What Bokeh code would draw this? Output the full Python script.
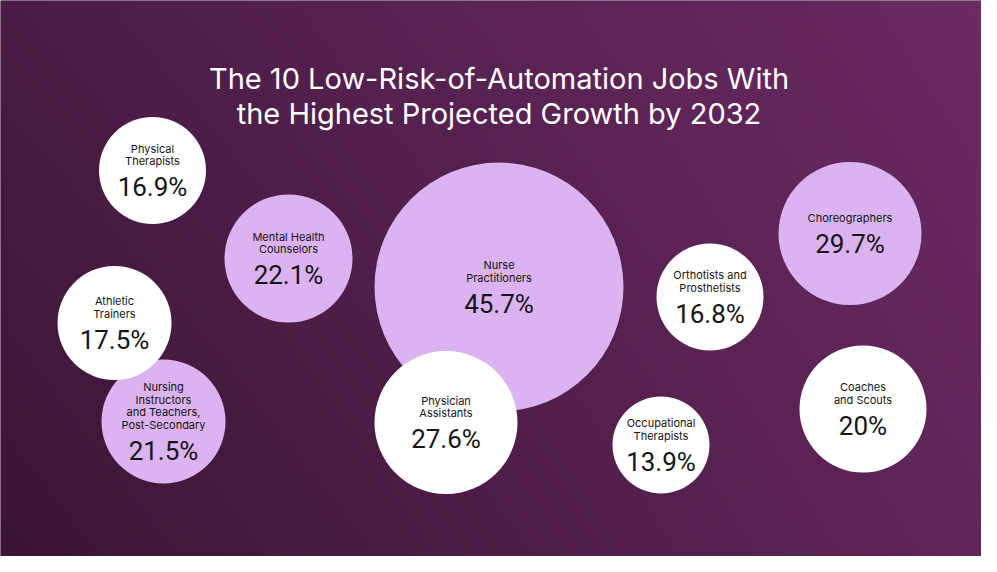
import numpy as np
from bokeh.plotting import figure
from bokeh.models import Range1d, ColumnDataSource
from bokeh.core.properties import value
from bokeh.embed import file_html
from bokeh.resources import INLINE

# ---------------- data ----------------
title_lines = ["The 10 Low-Risk-of-Automation Jobs With",
               "the Highest Projected Growth by 2032"]

jobs = ["Physical\nTherapists",
        "Mental Health\nCounselors",
        "Athletic\nTrainers",
        "Nursing\nInstructors\nand Teachers,\nPost-Secondary",
        "Nurse\nPractitioners",
        "Physician\nAssistants",
        "Choreographers",
        "Orthotists and\nProsthetists",
        "Coaches\nand Scouts",
        "Occupational\nTherapists"]
growth = [16.9, 22.1, 17.5, 21.5, 45.7, 27.6, 29.7, 16.8, 20, 13.9]
highlight = [False, True, False, True, True, False, True, False, False, False]

# ---------------- layout (reference pixel space) ----------------
cx = [152, 288, 114, 163, 498.5, 445.5, 849.5, 709.5, 862.5, 660.5]
cy = [170, 258, 322.5, 421, 286.5, 422, 233, 296.5, 408.5, 444.5]
rad = [53.5, 64, 57, 62, 124.5, 71.5, 71.5, 53.5, 63.5, 48.5]

W, H = 981, 556
X0, Y0 = 0, 0

WHITE = "#ffffff"
LAVENDER = "#dab3f0"
TEXT = "#141414"
FONT = "Inter"
VFONT = "Roboto"

p = figure(width=W, height=H, output_backend="svg", toolbar_location=None,
           x_range=Range1d(X0, X0 + W), y_range=Range1d(Y0 + H, Y0),
           min_border=0)
p.axis.visible = False
p.grid.visible = False
p.outline_line_color = None
p.background_fill_color = "#521f4c"
p.border_fill_color = "#521f4c"

# background gradient
gw, gh = 200, 120
TL = np.array([0x4a, 0x1c, 0x45], float)
TR = np.array([0x6a, 0x2a, 0x62], float)
BL = np.array([0x3a, 0x14, 0x33], float)
BR = np.array([0x5f, 0x25, 0x59], float)
u = np.linspace(0, 1, gw)[None, :, None]
v = np.linspace(0, 1, gh)[:, None, None]
col = (TL * (1 - u) * (1 - v) + TR * u * (1 - v) + BL * (1 - u) * v + BR * u * v)
rgba = np.empty((gh, gw), dtype=np.uint32)
view = rgba.view(dtype=np.uint8).reshape((gh, gw, 4))
view[:, :, 0:3] = np.round(col).astype(np.uint8)
view[:, :, 3] = 255
p.image_rgba(image=[rgba], x=X0, y=Y0, dw=W, dh=H)

# circles: lavender first, then white on top
for flag, color in [(True, LAVENDER), (False, WHITE)]:
    idx = [i for i in range(len(jobs)) if highlight[i] == flag]
    src = ColumnDataSource(dict(x=[cx[i] for i in idx], y=[cy[i] for i in idx],
                                r=[rad[i] for i in idx]))
    p.circle(x="x", y="y", radius="r", source=src, fill_color=color,
             line_color=None)

# labels
lx, ly, lt = [], [], []
vx, vy, vt = [], [], []
LS, GAP = 12.7, 26
for i, name in enumerate(jobs):
    lines = name.split("\n")
    n = len(lines)
    span = LS * (n - 1) + GAP
    first = cy[i] - span / 2 - 2.5
    for k, ln in enumerate(lines):
        lx.append(cx[i]); ly.append(first + k * LS); lt.append(ln)
    vx.append(cx[i]); vy.append(first + LS * (n - 1) + GAP)
    vt.append(f"{growth[i]:g}%")

p.text(x=lx, y=ly, text=lt, text_font=value(FONT), text_font_size="11px",
       text_color=TEXT, text_align="center", text_baseline="middle")
p.text(x=vx, y=vy, text=vt, text_font=value(VFONT), text_font_size="26px",
       text_color=TEXT, text_align="center", text_baseline="middle")

# title
p.text(x=[498.5, 498.5], y=[78, 113], text=title_lines, text_font=value(FONT),
       text_font_size="29px", text_color="#ffffff", text_align="center",
       text_baseline="middle")

open("out.html", "w").write(file_html(p, INLINE))
